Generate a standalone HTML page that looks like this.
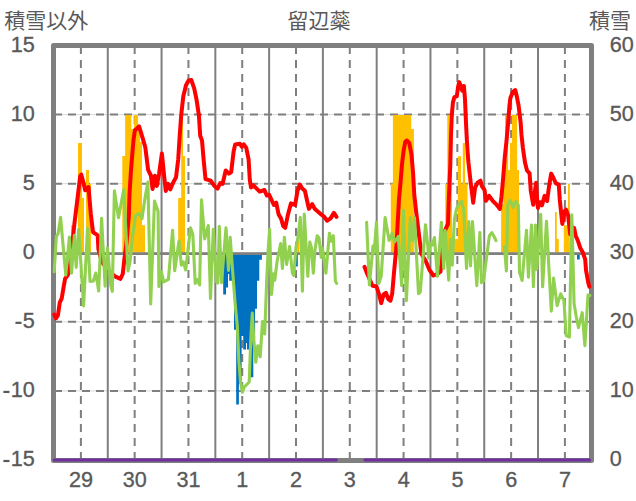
<!DOCTYPE html>
<html><head><meta charset="utf-8"><title>chart</title><style>html,body{margin:0;padding:0;background:#fff}svg{display:block}</style></head><body>
<svg width="636" height="501" viewBox="0 0 636 501">
<rect width="636" height="501" fill="#fff"/>
<line x1="53.5" x2="591.5" y1="114.58" y2="114.58" stroke="#d9d9d9" stroke-width="1"/>
<line x1="53.5" x2="591.5" y1="183.66" y2="183.66" stroke="#d9d9d9" stroke-width="1"/>
<line x1="53.5" x2="591.5" y1="252.75" y2="252.75" stroke="#d9d9d9" stroke-width="1"/>
<line x1="53.5" x2="591.5" y1="321.84" y2="321.84" stroke="#d9d9d9" stroke-width="1"/>
<line x1="53.5" x2="591.5" y1="390.92" y2="390.92" stroke="#d9d9d9" stroke-width="1"/>
<line x1="54.0" x2="591.5" y1="114.58" y2="114.58" stroke="#7f7f7f" stroke-width="2" stroke-dasharray="8 6"/>
<line x1="54.0" x2="591.5" y1="183.66" y2="183.66" stroke="#7f7f7f" stroke-width="2" stroke-dasharray="8 6"/>
<line x1="54.0" x2="591.5" y1="321.84" y2="321.84" stroke="#7f7f7f" stroke-width="2" stroke-dasharray="8 6"/>
<line x1="54.0" x2="591.5" y1="390.92" y2="390.92" stroke="#7f7f7f" stroke-width="2" stroke-dasharray="8 6"/>
<line x1="80.89" x2="80.89" y1="46.0" y2="460.4" stroke="#7f7f7f" stroke-width="2" stroke-dasharray="8 6"/>
<line x1="134.67" x2="134.67" y1="46.0" y2="460.4" stroke="#7f7f7f" stroke-width="2" stroke-dasharray="8 6"/>
<line x1="188.45" x2="188.45" y1="46.0" y2="460.4" stroke="#7f7f7f" stroke-width="2" stroke-dasharray="8 6"/>
<line x1="242.23" x2="242.23" y1="46.0" y2="460.4" stroke="#7f7f7f" stroke-width="2" stroke-dasharray="8 6"/>
<line x1="296.01" x2="296.01" y1="46.0" y2="460.4" stroke="#7f7f7f" stroke-width="2" stroke-dasharray="8 6"/>
<line x1="349.79" x2="349.79" y1="46.0" y2="460.4" stroke="#7f7f7f" stroke-width="2" stroke-dasharray="8 6"/>
<line x1="403.57" x2="403.57" y1="46.0" y2="460.4" stroke="#7f7f7f" stroke-width="2" stroke-dasharray="8 6"/>
<line x1="457.35" x2="457.35" y1="46.0" y2="460.4" stroke="#7f7f7f" stroke-width="2" stroke-dasharray="8 6"/>
<line x1="511.13" x2="511.13" y1="46.0" y2="460.4" stroke="#7f7f7f" stroke-width="2" stroke-dasharray="8 6"/>
<line x1="564.91" x2="564.91" y1="46.0" y2="460.4" stroke="#7f7f7f" stroke-width="2" stroke-dasharray="8 6"/>
<line x1="107.78" x2="107.78" y1="45.5" y2="460.4" stroke="#7f7f7f" stroke-width="2"/>
<line x1="161.56" x2="161.56" y1="45.5" y2="460.4" stroke="#7f7f7f" stroke-width="2"/>
<line x1="215.34" x2="215.34" y1="45.5" y2="460.4" stroke="#7f7f7f" stroke-width="2"/>
<line x1="269.12" x2="269.12" y1="45.5" y2="460.4" stroke="#7f7f7f" stroke-width="2"/>
<line x1="322.90" x2="322.90" y1="45.5" y2="460.4" stroke="#7f7f7f" stroke-width="2"/>
<line x1="376.68" x2="376.68" y1="45.5" y2="460.4" stroke="#7f7f7f" stroke-width="2"/>
<line x1="430.46" x2="430.46" y1="45.5" y2="460.4" stroke="#7f7f7f" stroke-width="2"/>
<line x1="484.24" x2="484.24" y1="45.5" y2="460.4" stroke="#7f7f7f" stroke-width="2"/>
<line x1="538.02" x2="538.02" y1="45.5" y2="460.4" stroke="#7f7f7f" stroke-width="2"/>
<rect x="53.5" y="45.5" width="538.0" height="414.9" fill="none" stroke="#7f7f7f" stroke-width="5" stroke-linejoin="round"/>
<path d="M71.0 252.6 V225.2 H73.0 V252.6 Z M78.0 252.6 V143.0 H82.0 V198.0 H84.0 V252.6 Z M86.0 252.6 V170.0 H89.0 V184.0 H91.0 V252.6 Z M122.3 252.6 V156.0 H125.1 V115.0 H131.3 V129.0 H134.1 V115.0 H138.1 V128.5 H140.0 V142.0 H142.0 V225.2 H145.0 V252.6 Z M178.2 252.6 V198.0 H181.2 V115.0 H183.0 V156.0 H185.0 V252.6 Z M297.2 252.6 V238.9 H299.2 V252.6 Z M390.8 252.6 V183.6 H392.9 V115.0 H411.2 V129.0 H413.9 V252.6 Z M445.3 252.6 V184.0 H447.3 V115.0 H449.6 V170.0 H452.0 V238.9 H457.8 V156.2 H461.0 V183.6 H462.8 V143.0 H465.1 V183.6 H467.5 V252.6 Z M501.1 252.6 V204.0 H503.3 V170.0 H505.0 V115.0 H508.1 V170.0 H510.0 V143.0 H511.9 V115.0 H517.1 V170.0 H519.0 V252.6 Z M555.0 252.6 V212.0 H556.8 V238.9 H558.8 V252.6 Z M563.9 252.6 V225.2 H568.0 V184.0 H569.8 V252.6 Z" fill="#ffc000"/>
<path d="M223.2 254.4 V294.6 H226.0 V287.6 H228.0 V274.0 H229.2 V280.8 H232.0 V281.0 H234.0 V329.8 H236.2 V404.4 H238.9 V383.6 H241.6 V336.0 H243.2 V349.5 H246.0 V343.0 H247.0 V349.5 H250.2 V377.3 H253.3 V338.0 H255.1 V308.8 H257.0 V280.8 H259.3 V259.7 H261.9 V254.4 Z M295.6 254.4 V266.5 H297.8 V254.4 Z M577.0 254.4 V259.4 H579.7 V254.4 Z" fill="#0070c0"/>
<line x1="53.5" x2="591.5" y1="253.6" y2="253.6" stroke="#7f7f7f" stroke-width="2.8"/>
<polyline points="54.2,314.5 56.0,318.3 57.9,315.5 59.8,302.3 61.7,298.5 63.6,287.2 65.1,278.7 67.9,274.9 69.8,266.4 71.3,254.4 74.5,222.9 77.6,197.7 80.2,176.0 81.2,174.5 83.0,181.0 85.2,190.2 86.8,188.0 88.5,187.0 90.8,213.9 93.0,232.1 97.7,235.3 98.4,249.1 102.0,262.3 105.0,266.0 110.0,272.0 114.9,276.3 120.5,278.8 122.8,273.7 124.3,259.8 126.4,243.8 128.9,215.0 129.5,194.0 131.0,170.0 132.1,156.6 133.5,140.0 134.9,130.2 136.5,129.0 139.1,126.4 142.5,137.7 145.3,147.2 148.1,169.8 150.9,175.5 152.6,189.0 154.9,175.8 156.8,186.0 159.1,173.6 161.9,153.6 164.4,178.5 165.8,191.0 168.1,183.9 170.2,189.4 173.7,181.5 176.0,177.6 178.2,159.4 179.7,135.8 181.2,115.2 183.3,96.3 186.0,85.2 188.6,80.5 191.3,80.0 194.2,88.4 196.5,99.4 198.9,115.2 200.2,135.8 202.0,140.5 203.6,159.4 205.5,179.1 210.7,180.7 214.7,186.2 217.5,188.6 220.2,183.1 222.6,183.9 225.7,170.5 228.9,173.6 231.2,172.0 233.6,151.5 235.2,144.4 239.9,143.7 241.8,146.8 243.8,144.4 246.2,147.6 248.6,159.4 249.8,180.0 251.0,187.5 253.4,185.3 259.7,191.6 264.4,190.0 266.8,195.5 269.1,194.7 273.9,205.0 276.2,202.6 278.6,214.4 281.0,218.4 283.3,226.3 285.2,227.8 288.0,214.4 290.9,203.4 295.1,205.0 297.5,190.8 299.9,184.5 302.2,188.4 304.9,190.8 307.0,200.2 308.9,208.9 312.2,204.2 314.9,208.9 321.2,214.4 324.3,216.8 327.0,220.7 330.6,218.4 333.9,212.9 336.5,216.8" fill="none" stroke="#ff0000" stroke-width="4" stroke-linejoin="round" stroke-linecap="round"/>
<polyline points="364.5,266.8 367.3,273.9 370.0,280.0 372.5,285.7 376.5,286.5 378.8,293.6 381.2,303.1 383.6,294.4 385.9,292.8 388.3,299.1 390.4,300.7 392.2,293.6 394.1,271.5 396.3,248.0 399.0,199.0 400.5,183.0 402.0,164.2 403.5,151.5 405.2,142.0 406.8,140.5 409.2,142.9 411.5,154.7 413.1,173.6 414.3,195.0 416.4,213.9 419.5,239.0 421.4,254.0 425.5,260.5 429.5,270.0 433.4,275.5 437.0,274.0 440.5,271.5 442.1,255.8 444.5,232.0 446.5,227.0 448.0,224.0 448.8,199.0 450.3,165.0 451.0,135.0 451.8,115.2 452.9,102.6 454.4,97.1 456.8,96.3 458.1,86.8 459.2,82.1 460.8,86.0 462.3,90.8 463.9,86.0 465.0,99.4 466.0,123.0 466.8,139.0 467.8,155.0 468.5,163.0 470.5,181.0 473.2,202.7 475.1,187.6 477.6,182.6 480.5,180.7 482.0,186.4 484.6,190.2 485.8,200.8 489.0,195.8 492.7,200.8 496.5,204.6 499.9,209.0 501.5,196.4 503.2,177.6 504.7,158.0 506.6,140.0 508.2,122.0 509.5,105.0 510.4,97.9 512.8,92.3 515.2,90.0 516.8,96.3 518.6,105.7 520.7,123.1 521.5,135.0 522.9,148.0 525.0,162.6 527.0,170.5 529.6,173.3 530.8,191.0 533.2,204.7 534.5,194.0 536.1,182.7 537.0,197.8 537.9,207.9 540.2,202.2 542.0,205.3 544.6,195.9 547.1,200.9 549.0,186.5 551.2,173.6 552.7,176.4 555.9,183.3 558.8,184.6 559.8,200.0 562.3,223.9 564.7,211.3 565.9,209.5 568.1,215.2 570.2,234.2 572.0,227.0 574.1,228.0 575.7,235.7 578.1,241.3 580.4,248.4 582.8,252.3 585.2,259.4 586.0,270.2 588.3,282.9 589.4,286.8" fill="none" stroke="#ff0000" stroke-width="4" stroke-linejoin="round" stroke-linecap="round"/>
<polyline points="54.2,272.0 56.3,236.3 58.0,234.0 60.6,217.4 63.5,250.0 65.8,275.0 69.4,237.0 71.5,273.2 74.4,235.4 76.2,267.5 78.6,229.5 81.0,265.0 83.6,306.0 87.5,228.3 90.0,281.5 93.4,281.0 95.8,273.0 98.7,291.0 101.6,218.2 105.1,286.2 107.5,248.0 110.7,285.0 112.3,291.3 114.4,190.7 118.5,217.7 123.7,189.8 126.0,232.7 128.0,271.0 130.0,262.0 132.3,239.0 135.4,216.0 139.1,213.3 142.0,218.6 145.0,198.0 147.9,182.1 150.7,303.9 154.5,201.0 158.1,211.3 158.9,286.5 161.3,271.5 163.7,281.8 168.4,279.4 172.6,230.2 174.7,270.8 179.0,241.0 181.3,265.2 183.5,262.0 185.7,270.0 190.5,227.8 192.8,234.1 195.2,283.4 197.5,279.5 199.6,285.0 201.5,199.9 204.7,238.9 208.3,225.5 210.5,298.4 213.3,229.4 216.5,281.8 217.8,283.0 219.3,226.3 221.5,282.6 226.0,227.8 228.5,270.5 230.2,237.3 232.6,270.5 235.0,302.0 237.3,326.0 238.9,361.5 240.5,382.0 242.4,392.3 244.4,386.8 249.2,382.0 250.2,355.0 251.0,335.0 252.3,313.1 253.8,340.0 255.8,362.3 257.8,345.8 260.2,356.8 262.5,321.5 264.7,334.0 266.8,278.0 268.2,250.0 269.6,229.4 271.5,294.4 273.4,273.9 274.8,280.2 277.0,262.0 280.6,243.6 282.4,268.4 284.4,237.3 286.6,264.4 289.6,246.5 292.4,273.1 293.8,275.5 296.0,247.0 298.2,236.0 300.3,217.3 302.4,291.3 304.3,214.1 307.8,276.3 309.8,242.0 311.5,248.0 313.3,273.1 315.0,250.0 317.2,235.7 319.0,238.0 321.2,257.4 322.4,248.0 325.9,273.1 329.4,233.4 331.4,241.2 333.3,235.7 335.4,281.0 336.6,283.4" fill="none" stroke="#92d050" stroke-width="3.1" stroke-linejoin="round" stroke-linecap="round"/>
<polyline points="366.6,222.3 369.4,285.0 373.0,246.0 374.1,253.0 376.5,222.3 378.8,283.4 381.2,276.3 385.1,217.6 389.1,240.5 392.2,233.4 394.6,242.0 398.2,236.5 401.7,285.7 403.4,210.3 406.4,300.7 410.3,217.6 412.4,240.5 414.5,217.6 418.5,293.6 420.3,292.0 425.5,224.7 427.8,246.0 428.6,258.0 430.2,243.4 432.3,245.0 434.5,237.5 437.4,276.3 441.4,222.2 443.7,268.4 445.2,230.5 448.7,280.2 450.5,239.5 452.3,265.2 454.4,219.0 456.6,208.8 459.0,204.0 461.7,201.4 463.7,210.0 466.5,268.4 468.8,221.5 470.5,266.0 472.5,221.5 476.8,285.7 479.9,232.6 481.5,282.6 483.5,281.0 489.4,235.7 491.8,232.6 494.1,236.5 496.0,240.7" fill="none" stroke="#92d050" stroke-width="3.1" stroke-linejoin="round" stroke-linecap="round"/>
<polyline points="504.4,246.5 506.4,271.0 507.8,205.0 510.2,200.4 513.2,207.5 515.8,201.3 518.3,205.0 519.5,272.0 522.1,280.5 526.5,230.2 528.4,277.3 531.5,225.0 533.4,286.8 535.5,225.0 536.8,269.4 540.7,214.4 542.6,286.8 546.5,221.2 549.0,270.0 551.3,311.1 553.6,278.1 557.1,305.6 560.7,293.8 563.9,300.5 566.2,335.5 569.4,337.0 571.8,214.9 574.1,304.0 576.5,318.0 578.5,327.6 582.2,312.7 584.9,345.7 588.0,295.0 590.0,295.6" fill="none" stroke="#92d050" stroke-width="3.1" stroke-linejoin="round" stroke-linecap="round"/>
<path d="M54.2 459.9H336.3M364.9 459.9H589.6" fill="none" stroke="#7030a0" stroke-width="3" stroke-linecap="round"/>
<text transform="translate(34.85 51.90) scale(0.970 1)" text-anchor="end" style="font-family:'Liberation Sans',sans-serif;font-size:22.3px;fill:#595959;stroke:#595959;stroke-width:0.35px">15</text>
<text transform="translate(34.85 120.98) scale(0.970 1)" text-anchor="end" style="font-family:'Liberation Sans',sans-serif;font-size:22.3px;fill:#595959;stroke:#595959;stroke-width:0.35px">10</text>
<text transform="translate(34.85 190.06) scale(0.970 1)" text-anchor="end" style="font-family:'Liberation Sans',sans-serif;font-size:22.3px;fill:#595959;stroke:#595959;stroke-width:0.35px">5</text>
<text transform="translate(34.85 259.15) scale(0.970 1)" text-anchor="end" style="font-family:'Liberation Sans',sans-serif;font-size:22.3px;fill:#595959;stroke:#595959;stroke-width:0.35px">0</text>
<text transform="translate(34.85 328.24) scale(0.970 1)" text-anchor="end" style="font-family:'Liberation Sans',sans-serif;font-size:22.3px;fill:#595959;stroke:#595959;stroke-width:0.35px">5</text>
<rect x="15.42" y="321.74" width="6.1" height="2.2" fill="#595959"/>
<text transform="translate(34.85 397.32) scale(0.970 1)" text-anchor="end" style="font-family:'Liberation Sans',sans-serif;font-size:22.3px;fill:#595959;stroke:#595959;stroke-width:0.35px">10</text>
<rect x="3.39" y="390.82" width="6.1" height="2.2" fill="#595959"/>
<text transform="translate(34.85 466.40) scale(0.970 1)" text-anchor="end" style="font-family:'Liberation Sans',sans-serif;font-size:22.3px;fill:#595959;stroke:#595959;stroke-width:0.35px">15</text>
<rect x="3.39" y="459.90" width="6.1" height="2.2" fill="#595959"/>
<text transform="translate(609.80 51.90) scale(0.970 1)" text-anchor="start" style="font-family:'Liberation Sans',sans-serif;font-size:22.3px;fill:#595959;stroke:#595959;stroke-width:0.35px">60</text>
<text transform="translate(609.80 120.98) scale(0.970 1)" text-anchor="start" style="font-family:'Liberation Sans',sans-serif;font-size:22.3px;fill:#595959;stroke:#595959;stroke-width:0.35px">50</text>
<text transform="translate(609.80 190.06) scale(0.970 1)" text-anchor="start" style="font-family:'Liberation Sans',sans-serif;font-size:22.3px;fill:#595959;stroke:#595959;stroke-width:0.35px">40</text>
<text transform="translate(609.80 259.15) scale(0.970 1)" text-anchor="start" style="font-family:'Liberation Sans',sans-serif;font-size:22.3px;fill:#595959;stroke:#595959;stroke-width:0.35px">30</text>
<text transform="translate(609.80 328.24) scale(0.970 1)" text-anchor="start" style="font-family:'Liberation Sans',sans-serif;font-size:22.3px;fill:#595959;stroke:#595959;stroke-width:0.35px">20</text>
<text transform="translate(609.80 397.32) scale(0.970 1)" text-anchor="start" style="font-family:'Liberation Sans',sans-serif;font-size:22.3px;fill:#595959;stroke:#595959;stroke-width:0.35px">10</text>
<text transform="translate(609.80 466.40) scale(0.970 1)" text-anchor="start" style="font-family:'Liberation Sans',sans-serif;font-size:22.3px;fill:#595959;stroke:#595959;stroke-width:0.35px">0</text>
<text transform="translate(80.99 487.30) scale(0.970 1)" text-anchor="middle" style="font-family:'Liberation Sans',sans-serif;font-size:22.3px;fill:#595959;stroke:#595959;stroke-width:0.35px">29</text>
<text transform="translate(134.77 487.30) scale(0.970 1)" text-anchor="middle" style="font-family:'Liberation Sans',sans-serif;font-size:22.3px;fill:#595959;stroke:#595959;stroke-width:0.35px">30</text>
<text transform="translate(188.55 487.30) scale(0.970 1)" text-anchor="middle" style="font-family:'Liberation Sans',sans-serif;font-size:22.3px;fill:#595959;stroke:#595959;stroke-width:0.35px">31</text>
<text transform="translate(242.33 487.30) scale(0.970 1)" text-anchor="middle" style="font-family:'Liberation Sans',sans-serif;font-size:22.3px;fill:#595959;stroke:#595959;stroke-width:0.35px">1</text>
<text transform="translate(296.11 487.30) scale(0.970 1)" text-anchor="middle" style="font-family:'Liberation Sans',sans-serif;font-size:22.3px;fill:#595959;stroke:#595959;stroke-width:0.35px">2</text>
<text transform="translate(349.89 487.30) scale(0.970 1)" text-anchor="middle" style="font-family:'Liberation Sans',sans-serif;font-size:22.3px;fill:#595959;stroke:#595959;stroke-width:0.35px">3</text>
<text transform="translate(403.67 487.30) scale(0.970 1)" text-anchor="middle" style="font-family:'Liberation Sans',sans-serif;font-size:22.3px;fill:#595959;stroke:#595959;stroke-width:0.35px">4</text>
<text transform="translate(457.45 487.30) scale(0.970 1)" text-anchor="middle" style="font-family:'Liberation Sans',sans-serif;font-size:22.3px;fill:#595959;stroke:#595959;stroke-width:0.35px">5</text>
<text transform="translate(511.23 487.30) scale(0.970 1)" text-anchor="middle" style="font-family:'Liberation Sans',sans-serif;font-size:22.3px;fill:#595959;stroke:#595959;stroke-width:0.35px">6</text>
<text transform="translate(565.01 487.30) scale(0.970 1)" text-anchor="middle" style="font-family:'Liberation Sans',sans-serif;font-size:22.3px;fill:#595959;stroke:#595959;stroke-width:0.35px">7</text>
<text x="4.2" y="28.4" text-anchor="start" style="font-family:'Liberation Sans','Noto Sans CJK JP',sans-serif;font-size:21px;fill:#595959">積雪以外</text>
<text x="287.4" y="27.6" text-anchor="start" style="font-family:'Liberation Sans','Noto Sans CJK JP',sans-serif;font-size:21px;fill:#595959">留辺蘂</text>
<text x="589.1" y="28.4" text-anchor="start" style="font-family:'Liberation Sans','Noto Sans CJK JP',sans-serif;font-size:21px;fill:#595959">積雪</text>
</svg>
</body></html>
